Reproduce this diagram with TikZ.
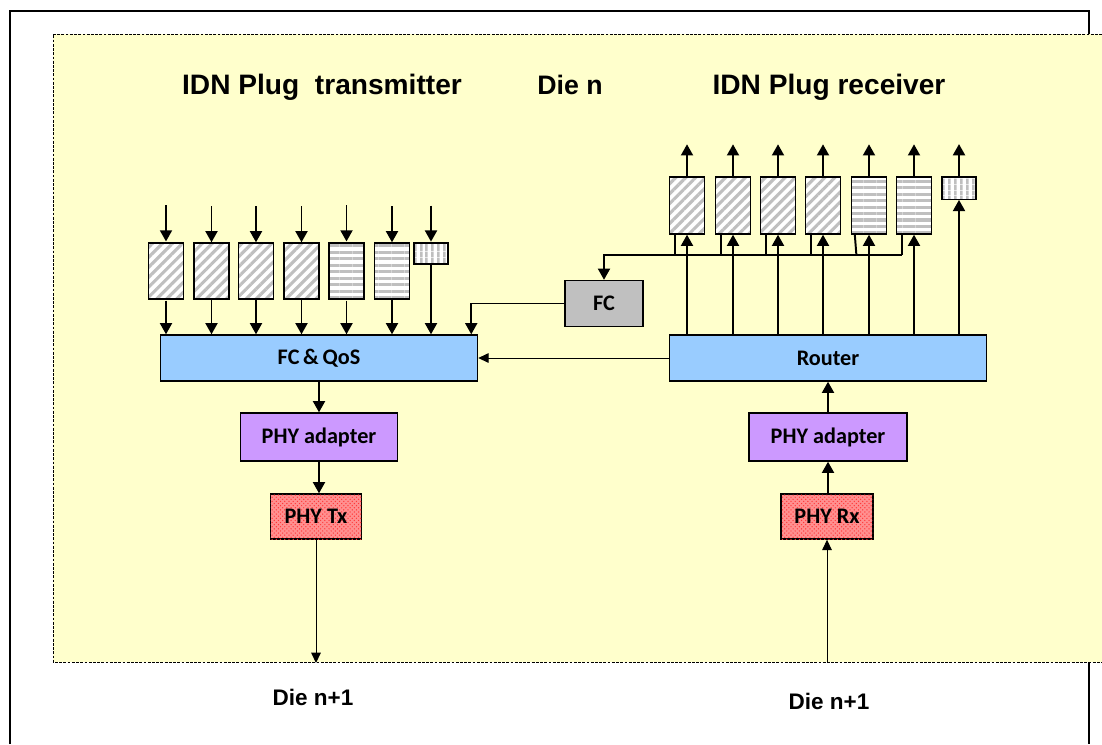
\documentclass[tikz,border=0pt]{standalone}
\usepackage{fontspec}
\setmainfont{Liberation Sans}
\newfontfamily\blkfont{Carlito}
\usetikzlibrary{arrows.meta,patterns,patterns.meta}

\definecolor{dieyellow}{HTML}{FFFFCC}
\definecolor{qosblue}{HTML}{99CCFF}
\definecolor{phypurple}{HTML}{CC99FF}
\definecolor{fcgray}{HTML}{C0C0C0}
\definecolor{phyred}{HTML}{FF9090}
\definecolor{phydot}{HTML}{FF3838}

\tikzset{
  qbox/.style={draw, line width=1pt, minimum width=0.875cm, minimum height=1.4cm, inner sep=0pt, preaction={fill=white}},
  diagq/.style={qbox, pattern={Lines[angle=45,distance=5pt,line width=2.2pt]}, pattern color=black!25},
  horq/.style={qbox, pattern={Lines[angle=0,distance=4.6pt,line width=2.2pt]}, pattern color=black!25},
  smallq/.style={qbox, minimum width=0.85cm, minimum height=0.53cm, pattern={Lines[angle=90,distance=4pt,line width=1.8pt]}, pattern color=black!25},
  blk/.style={draw, line width=1pt, inner sep=0pt, font=\blkfont\bfseries\fontsize{15.8}{18}\selectfont},
  phy/.style={blk, fill=phyred, postaction={pattern=crosshatch dots, pattern color=phydot}},
  ttl/.style={font=\bfseries\fontsize{20}{24}\selectfont},
  arr/.style={line width=1.4pt, -{Triangle[length=0.28cm,width=0.3cm]}},
  thinarr/.style={line width=0.7pt, -{Triangle[length=0.26cm,width=0.24cm]}},
  ln/.style={line width=1.4pt}
}

\begin{document}
\begin{tikzpicture}[x=0.025cm,y=-0.025cm]
  \useasboundingbox (0,0) rectangle (1102,744);
  % outer frame and die area
  \draw[line width=1pt] (10,744) -- (10,11) -- (1089,11) -- (1089,744);
  \fill[dieyellow] (53,34) rectangle (1102,662);
  \draw[line width=0.6pt, dash pattern=on 2pt off 1pt] (1102,34) -- (53,34) -- (53,662) -- (1102,662);
  \coordinate (dieline) at (0,663);
  \coordinate (bus) at (0,255);

  % titles
  \node[ttl] (txtitle) at (322,87) {IDN Plug~ transmitter};
  \node[font=\bfseries\fontsize{19}{23}\selectfont] (dietitle) at (570,85) {Die n};
  \node[ttl] (rxtitle) at (829,87) {IDN Plug receiver};

  % transmitter side
  \node[diagq] (tq1) at (166,271) {};
  \node[diagq] (tq2) at (211.5,271) {};
  \node[diagq] (tq3) at (256,271) {};
  \node[diagq] (tq4) at (301.5,271) {};
  \node[horq] (tq5) at (346.5,271) {};
  \node[horq] (tq6) at (392,271) {};
  \node[smallq] (tq7) at (431,253.5) {};
  \node[blk, fill=qosblue, minimum width=7.925cm, minimum height=1.15cm] (fcqos) at (319,358) {FC\,\&\,QoS};
  \node[blk, fill=phypurple, minimum width=3.925cm, minimum height=1.2cm] (txadapt) at (319,437) {PHY adapter};
  \node[phy, minimum width=2.275cm, minimum height=1.125cm] (phytx) at (316,516.5) {PHY Tx};

  \draw[arr] (tq1.north) ++(0,-36) -- (tq1.north);
  \draw[arr] (tq2.north) ++(0,-36) -- (tq2.north);
  \draw[arr] (tq3.north) ++(0,-36) -- (tq3.north);
  \draw[arr] (tq4.north) ++(0,-36) -- (tq4.north);
  \draw[arr] (tq5.north) ++(0,-36) -- (tq5.north);
  \draw[arr] (tq6.north) ++(0,-36) -- (tq6.north);
  \draw[arr] (tq7.north) ++(0,-36) -- (tq7.north);
  \draw[arr] (tq1.south) -- (tq1.south |- fcqos.north);
  \draw[arr] (tq2.south) -- (tq2.south |- fcqos.north);
  \draw[arr] (tq3.south) -- (tq3.south |- fcqos.north);
  \draw[arr] (tq4.south) -- (tq4.south |- fcqos.north);
  \draw[arr] (tq5.south) -- (tq5.south |- fcqos.north);
  \draw[arr] (tq6.south) -- (tq6.south |- fcqos.north);
  \draw[arr] (tq7.south) -- (tq7.south |- fcqos.north);
  \draw[arr] (fcqos.south) -- (txadapt.north);
  \draw[arr] (txadapt.south) -- (txadapt.south |- phytx.north);
  \draw[thinarr] (phytx.south) -- (phytx.south |- dieline);
  \node[font=\bfseries\fontsize{16}{19}\selectfont] (dietx) at (313,697) {Die n+1};

  % flow control
  \node[blk, fill=fcgray, minimum width=1.95cm, minimum height=1.15cm] (fc) at (604,303.5) {FC};
  \draw[arr] (fc.west) -| ([xshift=-0.175cm]fcqos.north east);

  % receiver side
  \node[diagq, minimum height=1.425cm] (rq1) at (687,205.5) {};
  \node[diagq, minimum height=1.425cm] (rq2) at (733,205.5) {};
  \node[diagq, minimum height=1.425cm] (rq3) at (778,205.5) {};
  \node[diagq, minimum height=1.425cm] (rq4) at (823,205.5) {};
  \node[horq, minimum height=1.425cm] (rq5) at (869,205.5) {};
  \node[horq, minimum height=1.425cm] (rq6) at (914,205.5) {};
  \node[smallq, minimum height=0.56cm] (rq7) at (959,188) {};
  \node[blk, fill=qosblue, minimum width=7.925cm, minimum height=1.15cm] (router) at (828,358) {Router};
  \node[blk, fill=phypurple, minimum width=3.95cm, minimum height=1.2cm] (rxadapt) at (828,437) {PHY adapter};
  \node[phy, minimum width=2.3cm, minimum height=1.125cm] (phyrx) at (827,516.5) {PHY Rx};

  \draw[ln] ([xshift=0.15cm]rq1.south west) -- ([xshift=0.15cm]rq1.south west |- bus);
  \draw[ln] ([xshift=0.15cm]rq2.south west) -- ([xshift=0.15cm]rq2.south west |- bus);
  \draw[ln] ([xshift=0.15cm]rq3.south west) -- ([xshift=0.15cm]rq3.south west |- bus);
  \draw[ln] ([xshift=0.15cm]rq4.south west) -- ([xshift=0.15cm]rq4.south west |- bus);
  \draw[ln] ([xshift=0.1cm]rq5.south west) -- ([xshift=0.14cm]rq5.south west |- bus);
  \draw[ln] ([xshift=0.15cm]rq6.south west) -- ([xshift=0.15cm]rq6.south west |- bus);
  \draw[arr] ([xshift=0.15cm]rq6.south west |- bus) -| (fc.north);

  \draw[arr] (rq1.south |- router.north) -- (rq1.south);
  \draw[arr] (rq2.south |- router.north) -- (rq2.south);
  \draw[arr] (rq3.south |- router.north) -- (rq3.south);
  \draw[arr] (rq4.south |- router.north) -- (rq4.south);
  \draw[arr] (rq5.south |- router.north) -- (rq5.south);
  \draw[arr] (rq6.south |- router.north) -- (rq6.south);
  \draw[arr] (rq7.south |- router.north) -- (rq7.south);
  \draw[arr] (rq1.north) -- ++(0,-32);
  \draw[arr] (rq2.north) -- ++(0,-32);
  \draw[arr] (rq3.north) -- ++(0,-32);
  \draw[arr] (rq4.north) -- ++(0,-32);
  \draw[arr] (rq5.north) -- ++(0,-32);
  \draw[arr] (rq6.north) -- ++(0,-32);
  \draw[arr] (rq7.north) -- ++(0,-32);
  \draw[thinarr] (router.west) -- (fcqos.east);
  \draw[arr] (rxadapt.north) -- (router.south);
  \draw[arr] (rxadapt.south |- phyrx.north) -- (rxadapt.south);
  \draw[thinarr] (phyrx.south |- dieline) -- (phyrx.south);
  \node[font=\bfseries\fontsize{16}{19}\selectfont] (dierx) at (829,701) {Die n+1};
\end{tikzpicture}
\end{document}
